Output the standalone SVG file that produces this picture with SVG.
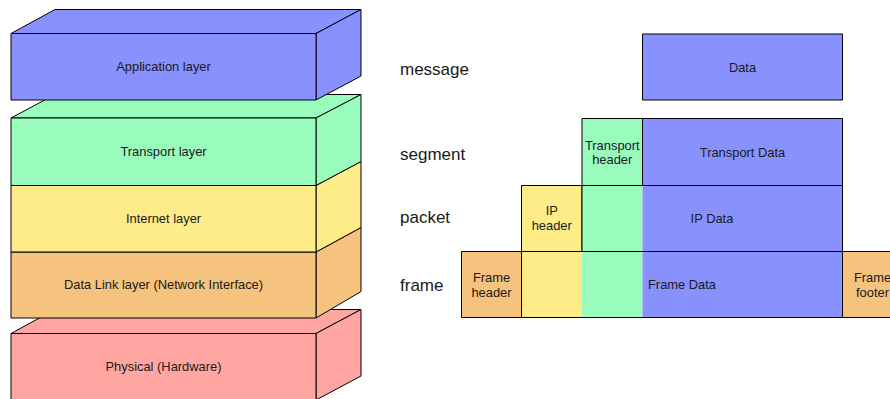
<svg xmlns="http://www.w3.org/2000/svg" width="890" height="399" viewBox="0 0 890 399">
  <style>
    .box { stroke: #000; stroke-width: 1; stroke-linejoin: round; }
    .fill-only { stroke: none; }
    .outline { fill: none; stroke: #000; stroke-width: 1; }
    .blue { fill: #8891fd; }
    .green { fill: #99fcbd; }
    .yellow { fill: #feec88; }
    .orange { fill: #f5c37d; }
    .pink { fill: #ffa6a2; }
    text { font-family: "Liberation Sans", Arial, sans-serif; fill: #1a1a1a; }
    .lbl { font-size: 12.9px; text-anchor: middle; }
    .unit { font-size: 17px; }
  </style>
  <rect width="890" height="399" fill="#fff"/>

  <!-- Layer stack (3D blocks) -->
  <g id="physical">
    <polygon class="box pink" points="11,333.5 55,309.5 361,309.5 316,333.5"/>
    <polygon class="box pink" points="316,333.5 361,309.5 361,376 316,400"/>
    <rect class="box pink" x="11" y="333.5" width="305" height="67"/>
    <text class="lbl" x="163.5" y="371">Physical (Hardware)</text>
  </g>
  <g id="data-link">
    <polygon class="box orange" points="316,252 361,227.5 361,291.5 316,318"/>
    <rect class="box orange" x="11" y="252" width="305" height="66"/>
    <text class="lbl" x="163.5" y="289">Data Link layer (Network Interface)</text>
  </g>
  <g id="internet">
    <polygon class="box yellow" points="316,185.5 361,161.5 361,227.5 316,252"/>
    <rect class="box yellow" x="11" y="185.5" width="305" height="66.5"/>
    <text class="lbl" x="163.5" y="223">Internet layer</text>
  </g>
  <g id="transport">
    <polygon class="box green" points="11,118 55,94.5 361,94.5 316,118"/>
    <polygon class="box green" points="316,118 361,94.5 361,161.5 316,185.5"/>
    <rect class="box green" x="11" y="118" width="305" height="67.5"/>
    <text class="lbl" x="163.5" y="156">Transport layer</text>
  </g>
  <g id="application">
    <polygon class="box blue" points="11,33.5 55,9.5 361,9.5 316,33.5"/>
    <polygon class="box blue" points="316,33.5 361,9.5 361,76 316,100"/>
    <rect class="box blue" x="11" y="33.5" width="305" height="66.5"/>
    <text class="lbl" x="163.5" y="71">Application layer</text>
  </g>

  <!-- Unit names -->
  <g id="unit-labels">
    <text class="unit" x="400" y="74.5">message</text>
    <text class="unit" x="400" y="159.5">segment</text>
    <text class="unit" x="400" y="223">packet</text>
    <text class="unit" x="400" y="291">frame</text>
  </g>

  <!-- message -->
  <g id="message">
    <rect class="box blue" x="642.5" y="34" width="200" height="66"/>
    <text class="lbl" x="742.5" y="71.5">Data</text>
  </g>

  <!-- segment -->
  <g id="segment">
    <rect class="box green" x="582" y="118.5" width="60.5" height="67"/>
    <text class="lbl" x="612.25" y="149.5">Transport</text>
    <text class="lbl" x="612.25" y="164">header</text>
    <rect class="box blue" x="642.5" y="118.5" width="200" height="67"/>
    <text class="lbl" x="742.5" y="156.5">Transport Data</text>
  </g>

  <!-- packet -->
  <g id="packet">
    <rect class="box yellow" x="521.5" y="185.5" width="60.5" height="66"/>
    <text class="lbl" x="551.75" y="215">IP</text>
    <text class="lbl" x="551.75" y="230">header</text>
    <rect class="fill-only green" x="582" y="185.5" width="60.5" height="66"/>
    <rect class="fill-only blue" x="642.5" y="185.5" width="200" height="66"/>
    <rect class="outline" x="582" y="185.5" width="260.5" height="66"/>
    <text class="lbl" x="712" y="223">IP Data</text>
  </g>

  <!-- frame -->
  <g id="frame">
    <rect class="box orange" x="461.5" y="251.5" width="60" height="66"/>
    <text class="lbl" x="491.5" y="282">Frame</text>
    <text class="lbl" x="491.5" y="297">header</text>
    <rect class="fill-only yellow" x="521.5" y="251.5" width="60.5" height="66"/>
    <rect class="fill-only green" x="582" y="251.5" width="60.5" height="66"/>
    <rect class="fill-only blue" x="642.5" y="251.5" width="200" height="66"/>
    <rect class="outline" x="521.5" y="251.5" width="321" height="66"/>
    <text class="lbl" x="682" y="289">Frame Data</text>
    <rect class="box orange" x="842.5" y="251.5" width="60" height="66"/>
    <text class="lbl" x="872.5" y="282">Frame</text>
    <text class="lbl" x="872.5" y="297">footer</text>
  </g>
</svg>
